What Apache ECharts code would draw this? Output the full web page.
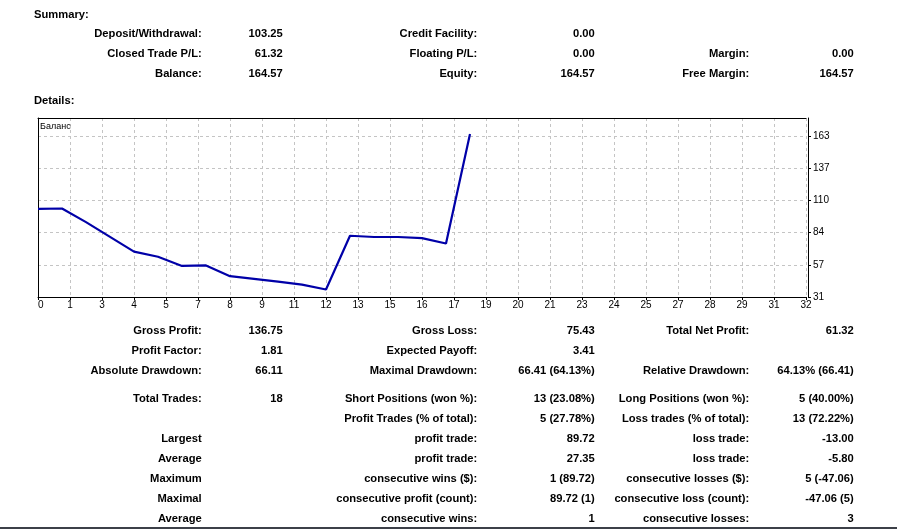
<!DOCTYPE html>
<html>
<head>
<meta charset="utf-8">
<script src="https://cdn.jsdelivr.net/npm/echarts@6.0.0/dist/echarts.min.js"></script>
<style>
html,body{margin:0;padding:0;background:#fff;}
#wrap{position:relative;width:902px;height:530px;overflow:hidden;font-family:"Liberation Sans",Arial,sans-serif;}
#chart{position:absolute;left:0;top:0;width:902px;height:530px;}
.t{position:absolute;font-weight:bold;font-size:11.2px;line-height:14px;white-space:nowrap;color:#000;}
.r{text-align:right;width:320px;}
#rule{position:absolute;left:0;top:527px;width:897px;height:0;border-top:2px solid #3c4048;}
</style>
</head>
<body>
<div id="wrap"><div id="chart"></div><div id="rule"></div></div>
<script>
// ---- data ----
const balance = [103.25, 103.55, 92.4, 80.3, 68.2, 64.0, 56.49, 56.9, 48.05, 45.85, 43.65, 41.2, 37.14, 81.2, 80.2, 80.2, 79.3, 74.85, 164.57];
const xTickLabels = ['0','1','3','4','5','7','8','9','11','12','13','15','16','17','19','20','21','23','24','25','27','28','29','31','32'];
const yTickLabels = ['31','57','84','110','137','163'];
const legendName = 'Баланс';

const summaryCol1 = [['Deposit/Withdrawal:','103.25'],['Closed Trade P/L:','61.32'],['Balance:','164.57']];
const summaryCol2 = [['Credit Facility:','0.00'],['Floating P/L:','0.00'],['Equity:','164.57']];
const summaryCol3 = [['',''],['Margin:','0.00'],['Free Margin:','164.57']];

const detailsCol1 = [['Gross Profit:','136.75'],['Profit Factor:','1.81'],['Absolute Drawdown:','66.11'],['Total Trades:','18'],['',''],['Largest',''],['Average',''],['Maximum',''],['Maximal',''],['Average','']];
const detailsCol2 = [['Gross Loss:','75.43'],['Expected Payoff:','3.41'],['Maximal Drawdown:','66.41 (64.13%)'],['Short Positions (won %):','13 (23.08%)'],['Profit Trades (% of total):','5 (27.78%)'],['profit trade:','89.72'],['profit trade:','27.35'],['consecutive wins ($):','1 (89.72)'],['consecutive profit (count):','89.72 (1)'],['consecutive wins:','1']];
const detailsCol3 = [['Total Net Profit:','61.32'],['',''],['Relative Drawdown:','64.13% (66.41)'],['Long Positions (won %):','5 (40.00%)'],['Loss trades (% of total):','13 (72.22%)'],['loss trade:','-13.00'],['loss trade:','-5.80'],['consecutive losses ($):','5 (-47.06)'],['consecutive loss (count):','-47.06 (5)'],['consecutive losses:','3']];

// scale parameters
const yBase = 31, yStep = 26.4, yTopSteps = 5.559;
const xMax = 32;

// ---- text layout ----
const wrap = document.getElementById('wrap');
function putRight(text, xRight, yCenter){
  if(!text) return;
  const d = document.createElement('div');
  d.className = 't r';
  d.style.left = (xRight - 320) + 'px';
  d.style.top = (yCenter - 7) + 'px';
  d.textContent = text;
  wrap.appendChild(d);
}
function putLeft(text, x, yCenter){
  const d = document.createElement('div');
  d.className = 't';
  d.style.left = x + 'px';
  d.style.top = (yCenter - 7) + 'px';
  d.textContent = text;
  wrap.appendChild(d);
}
putLeft('Summary:', 34, 14);
putLeft('Details:', 34, 100);
const sumRowsY = [33, 53, 73];
const detRowsY = [330, 350, 370, 397.5, 418, 438, 458, 478, 498, 518];
const colPos = [[201.7, 282.7], [477.3, 594.8], [749.3, 853.8]];
[summaryCol1, summaryCol2, summaryCol3].forEach((col, ci) => {
  col.forEach((row, ri) => { putRight(row[0], colPos[ci][0], sumRowsY[ri]); putRight(row[1], colPos[ci][1], sumRowsY[ri]); });
});
[detailsCol1, detailsCol2, detailsCol3].forEach((col, ci) => {
  col.forEach((row, ri) => { putRight(row[0], colPos[ci][0], detRowsY[ri]); putRight(row[1], colPos[ci][1], detRowsY[ri]); });
});

// ---- chart ----
const FONT = 'Liberation Sans';
const gridDash = {color:'#c4c4c4', type:[3,3], width:1};
const chart = echarts.init(document.getElementById('chart'), null, {renderer:'canvas'});
chart.setOption({
  animation:false,
  title:{text:legendName, left:40, top:122, padding:0, textStyle:{fontSize:9, fontWeight:'normal', color:'#000', fontFamily:FONT}},
  grid:{left:38, top:118, right:96, bottom:233, containLabel:false},
  xAxis:[
    {type:'value', min:0, max:xMax, position:'top',
     axisLine:{show:true, onZero:false, lineStyle:{color:'#000', width:1}},
     axisTick:{show:false}, axisLabel:{show:false}, splitLine:{show:false}},
    {type:'value', min:0, max:xTickLabels.length-1, interval:1, position:'bottom',
     axisLine:{show:true, onZero:false, lineStyle:{color:'#000', width:1}},
     axisTick:{show:true, inside:false, length:3, lineStyle:{color:'#000'}},
     axisLabel:{formatter:v => xTickLabels[Math.round(v)] ?? '', fontSize:10, color:'#000', margin:3, fontFamily:FONT, alignMinLabel:'left'},
     splitLine:{show:true, showMinLine:false, lineStyle:gridDash}}
  ],
  yAxis:[
    {type:'value', min:yBase, max:yBase + yStep*yTopSteps, position:'left',
     axisLine:{show:true, onZero:false, lineStyle:{color:'#000', width:1}},
     axisTick:{show:false}, axisLabel:{show:false}, splitLine:{show:false}},
    {type:'value', min:0, max:yTopSteps, interval:1, position:'right', offset:2,
     axisLine:{show:true, onZero:false, lineStyle:{color:'#000', width:1}},
     axisTick:{show:true, inside:false, length:3, lineStyle:{color:'#000'}},
     axisLabel:{formatter:v => (Number.isInteger(v) ? (yTickLabels[v] ?? '') : ''), showMaxLabel:false, fontSize:10, color:'#000', margin:5, fontFamily:FONT},
     splitLine:{show:true, showMinLine:false, showMaxLine:false, lineStyle:gridDash}}
  ],
  series:[{type:'line', xAxisIndex:0, yAxisIndex:0, data:balance.map((v,i)=>[i,v]), symbol:'none', silent:true,
           lineStyle:{color:'#0000a8', width:2.2}}]
});
</script>
</body>
</html>
